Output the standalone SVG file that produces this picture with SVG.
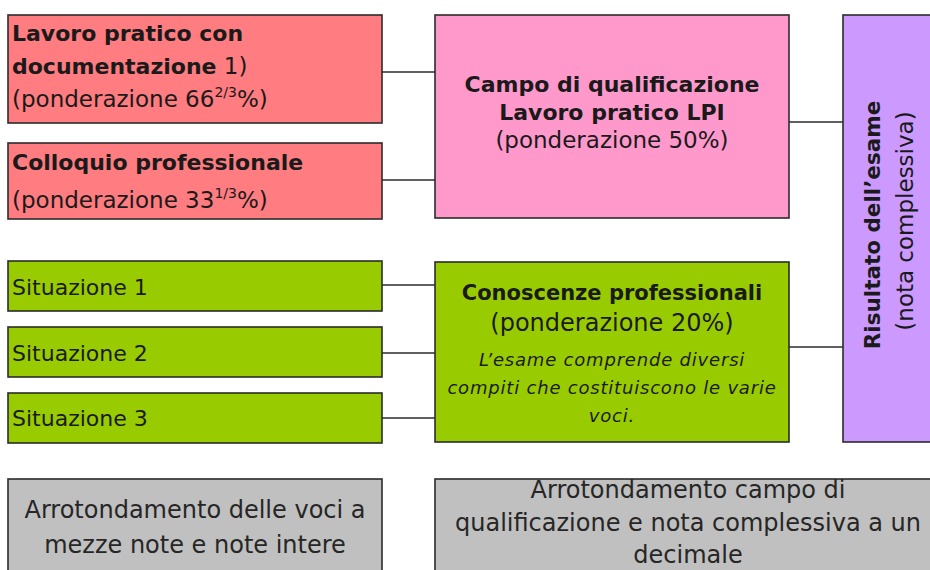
<svg xmlns="http://www.w3.org/2000/svg" width="930" height="570" viewBox="0 0 930 570">
<style>
.box{stroke:#2b2b2b;stroke-width:1.6}
.red{fill:#ff7c80}
.pink{fill:#ff99cc}
.purple{fill:#cc99ff}
.green{fill:#99cc00}
.gray{fill:#c0c0c0}
text{font-family:"DejaVu Sans","Liberation Sans",sans-serif;fill:#1a1a1a}
.b{font-weight:bold;font-size:22px}
.r{font-size:23px}
.s{font-size:22px}
.i{font-style:italic;font-size:18px;letter-spacing:0.8px}
.g{font-size:24px;fill:#262626}
.c{text-anchor:middle}
.sup{font-size:14px}
#connectors line{stroke:#2b2b2b;stroke-width:1.4}
</style>
<rect width="930" height="570" fill="#ffffff"/>
<g id="connectors">
<line x1="382" y1="72" x2="435" y2="72"/>
<line x1="382" y1="180" x2="435" y2="180"/>
<line x1="382" y1="285" x2="435" y2="285"/>
<line x1="382" y1="353" x2="435" y2="353"/>
<line x1="382" y1="418" x2="435" y2="418"/>
<line x1="789" y1="122" x2="843" y2="122"/>
<line x1="789" y1="347" x2="843" y2="347"/>
</g>
<g id="lavoro-pratico">
<rect class="box red" x="8" y="15" width="374" height="108"/>
<text class="b" x="12" y="41">Lavoro pratico con</text>
<text x="12" y="74"><tspan class="b">documentazione</tspan><tspan class="r"> 1)</tspan></text>
<text class="r" x="12" y="107">(ponderazione 66<tspan class="sup" dy="-10">2/3</tspan><tspan dy="10">%)</tspan></text>
</g>
<g id="colloquio">
<rect class="box red" x="8" y="143" width="374" height="76"/>
<text class="b" x="12" y="170">Colloquio professionale</text>
<text class="r" x="12" y="208">(ponderazione 33<tspan class="sup" dy="-10">1/3</tspan><tspan dy="10">%)</tspan></text>
</g>
<g id="campo-lpi">
<rect class="box pink" x="435" y="15" width="354" height="203"/>
<text class="b c" x="612" y="92">Campo di qualificazione</text>
<text class="b c" x="612" y="120">Lavoro pratico LPI</text>
<text class="r c" x="612" y="148">(ponderazione 50%)</text>
</g>
<g id="risultato">
<rect class="box purple" x="843" y="15" width="100" height="427"/>
<text class="c" transform="translate(880,225) rotate(-90)" style="font-weight:bold;font-size:21.5px">Risultato dell’esame</text>
<text class="c" transform="translate(913,221) rotate(-90)" style="font-size:23px">(nota complessiva)</text>
</g>
<g id="situazione-1">
<rect class="box green" x="8" y="261" width="374" height="50"/>
<text class="s" x="12" y="295">Situazione 1</text>
</g>
<g id="situazione-2">
<rect class="box green" x="8" y="327" width="374" height="50"/>
<text class="s" x="12" y="361">Situazione 2</text>
</g>
<g id="situazione-3">
<rect class="box green" x="8" y="393" width="374" height="50"/>
<text class="s" x="12" y="426">Situazione 3</text>
</g>
<g id="conoscenze">
<rect class="box green" x="435" y="262" width="354" height="180"/>
<text class="c" x="612" y="300" style="font-weight:bold;font-size:21px">Conoscenze professionali</text>
<text class="c" x="612" y="331" style="font-size:24px">(ponderazione 20%)</text>
<text class="i c" x="612" y="366">L’esame comprende diversi</text>
<text class="i c" x="612" y="394">compiti che costituiscono le varie</text>
<text class="i c" x="612" y="422">voci.</text>
</g>
<g id="arrotondamento-voci">
<rect class="box gray" x="8" y="479" width="374" height="100"/>
<text class="g c" x="195" y="518">Arrotondamento delle voci a</text>
<text class="g c" x="195" y="553">mezze note e note intere</text>
</g>
<g id="arrotondamento-campo">
<rect class="box gray" x="435" y="479" width="506" height="100"/>
<text class="g c" x="688" y="498">Arrotondamento campo di</text>
<text class="g c" x="688" y="531">qualificazione e nota complessiva a un</text>
<text class="g c" x="688" y="563">decimale</text>
</g>
</svg>
